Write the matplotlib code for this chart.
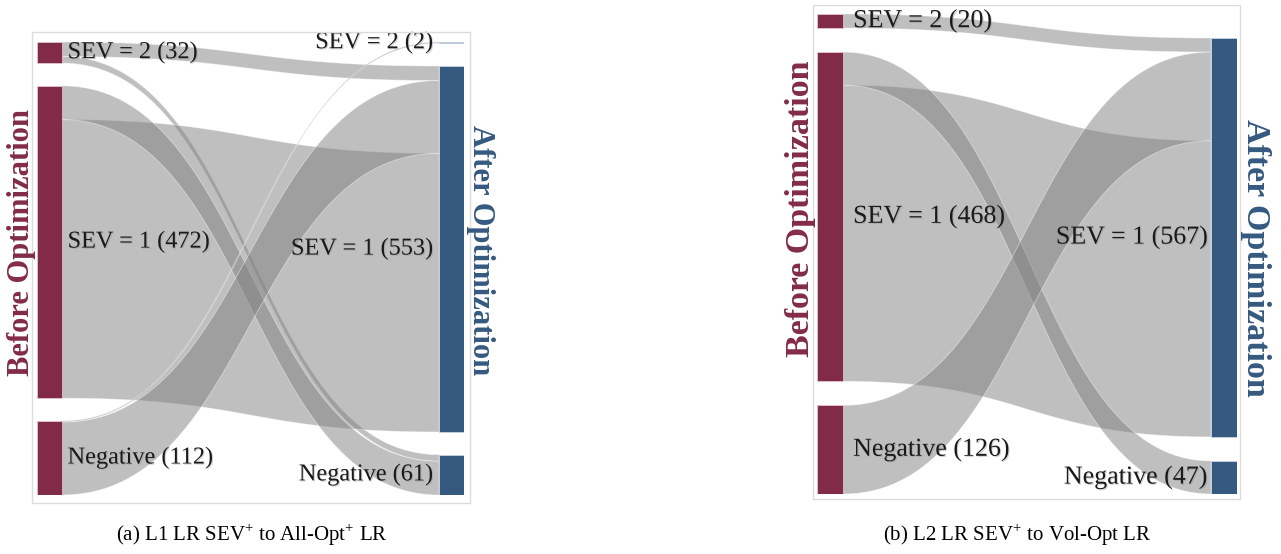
import matplotlib
matplotlib.use('Agg')
import matplotlib.pyplot as plt
import matplotlib.patheffects as pe
import numpy as np
from matplotlib.patches import Rectangle, Polygon

plt.rcParams['font.family'] = ['Liberation Serif', 'DejaVu Serif']
plt.rcParams['mathtext.fontset'] = 'custom'
plt.rcParams['mathtext.rm'] = 'Liberation Serif'

# ---- data ----
# panel (a): L1 LR SEV+ -> All-Opt+ LR
a_left_labels = ['SEV = 2', 'SEV = 1', 'Negative']
a_left_values = [32, 472, 112]
a_right_labels = ['SEV = 2', 'SEV = 1', 'Negative']
a_right_values = [2, 553, 61]
a_links = [(0, 1, 22), (0, 2, 10), (1, 1, 421), (1, 2, 51), (2, 0, 2), (2, 1, 110)]
a_src_order = [3, 2, 0, 1, 4, 5]       # stacking order at the left nodes
a_tgt_order = [4, 0, 5, 2, 1, 3]       # stacking order at the right nodes

# panel (b): L2 LR SEV+ -> Vol-Opt LR
b_left_labels = ['SEV = 2', 'SEV = 1', 'Negative']
b_left_values = [20, 468, 126]
b_right_labels = ['SEV = 1', 'Negative']
b_right_values = [567, 47]
b_links = [(0, 0, 20), (1, 0, 421), (1, 1, 47), (2, 0, 126)]
b_src_order = [0, 2, 1, 3]
b_tgt_order = [0, 3, 1, 2]

captions = ['(a) L1 LR SEV$^{+}$ to All-Opt$^{+}$ LR',
            '(b) L2 LR SEV$^{+}$ to Vol-Opt LR']

CRIMSON = '#822b48'
BLUE = '#35597f'
W, H = 1281, 554
GAP = 0.05
shadow = [pe.SimplePatchShadow(offset=(0.8, -0.8), shadow_rgbFace='#888888', alpha=0.35),
          pe.Normal()]


def px_axes(fig, x0, y0, x1, y1):
    return fig.add_axes([x0 / W, 1 - y1 / H, (x1 - x0) / W, (y1 - y0) / H])


def stack(values, total):
    scale = (1 - 2 * GAP) / total
    hs = [v * scale for v in values]
    top = 1 - (sum(hs) + GAP * (len(hs) - 1))   # bottom-aligned columns
    tops = []
    for h in hs:
        tops.append(top)
        top += h + GAP
    return tops, hs, scale


def draw_sankey(ax, lv, rv, links, src_order, tgt_order, ll, rl, nw, fs, lpad, rpad):
    total = sum(lv)
    ltops, lhs, scale = stack(lv, total)
    rtops, rhs, _ = stack(rv, total)
    ax.set_xlim(0, 1)
    ax.set_ylim(1, 0)
    ax.axis('off')

    # link positions at each end
    lcur = list(ltops)
    s_pos = {}
    for i in src_order:
        s, t, v = links[i]
        s_pos[i] = lcur[s]
        lcur[s] += v * scale
    rcur = list(rtops)
    t_pos = {}
    for i in tgt_order:
        s, t, v = links[i]
        t_pos[i] = rcur[t]
        rcur[t] += v * scale

    x0, x1 = nw, 1 - nw
    tt = np.linspace(0, 1, 100)
    xm = (x0 + x1) / 2
    xs = (1 - tt) ** 3 * x0 + 3 * (1 - tt) ** 2 * tt * xm + 3 * (1 - tt) * tt ** 2 * xm + tt ** 3 * x1
    ease = 3 * tt ** 2 - 2 * tt ** 3
    for i, (s, t, v) in enumerate(links):
        h = v * scale
        ytop = s_pos[i] + (t_pos[i] - s_pos[i]) * ease
        pts = np.concatenate([np.column_stack([xs, ytop]),
                              np.column_stack([xs[::-1], (ytop + h)[::-1]])])
        ax.add_patch(Polygon(pts, closed=True, facecolor=(0.5, 0.5, 0.5, 0.5),
                             edgecolor=(1, 1, 1, 0.45), lw=0.6))

    for top, h, lab, v in zip(ltops, lhs, ll, lv):
        ax.add_patch(Rectangle((0, top), nw, h, facecolor=CRIMSON,
                               edgecolor='#e8d0d8', lw=0.5))
        ax.text(nw + lpad, top + h / 2, f'{lab} ({v})', fontsize=fs,
                ha='left', va='center', color='#1a1a1a', path_effects=shadow)
    for top, h, lab, v in zip(rtops, rhs, rl, rv):
        ax.add_patch(Rectangle((1 - nw, top), nw, max(h, 0.002), facecolor=BLUE,
                               edgecolor='#d0d8e8', lw=0.5))
        ax.text(1 - nw - rpad, top + h / 2, f'{lab} ({v})', fontsize=fs,
                ha='right', va='center', color='#1a1a1a', path_effects=shadow)


fig = plt.figure(figsize=(W / 100, H / 100), dpi=100)

# frames around the two panels
for fx0, fy0, fx1, fy1 in [(32, 32, 470, 503), (813, 5, 1240, 499)]:
    fig.add_artist(Rectangle((fx0 / W, 1 - fy1 / H), (fx1 - fx0) / W, (fy1 - fy0) / H,
                             transform=fig.transFigure, fill=False,
                             edgecolor='#dcdcdc', lw=1))

ax1 = px_axes(fig, 37, 42, 464, 495)
draw_sankey(ax1, a_left_values, a_right_values, a_links, a_src_order, a_tgt_order,
            a_left_labels, a_right_labels, 25 / 427, 17.5, 0.013, 0.013)

ax2 = px_axes(fig, 817, 14, 1237, 494)
draw_sankey(ax2, b_left_values, b_right_values, b_links, b_src_order, b_tgt_order,
            b_left_labels, b_right_labels, 26 / 420, 18.7, 0.024, 0.008)

fig.text(22 / W, 1 - 243 / H, 'Before Optimization', rotation=90, color=CRIMSON,
         fontsize=22, fontweight='bold', ha='center', va='center')
fig.text(480 / W, 1 - 250 / H, 'After Optimization', rotation=-90, color=BLUE,
         fontsize=22, fontweight='bold', ha='center', va='center')
fig.text(800 / W, 1 - 209 / H, 'Before Optimization', rotation=90, color=CRIMSON,
         fontsize=24.5, fontweight='bold', ha='center', va='center')
fig.text(1255 / W, 1 - 258 / H, 'After Optimization', rotation=-90, color=BLUE,
         fontsize=24.5, fontweight='bold', ha='center', va='center')

fig.text(252 / W, 1 - 535 / H, captions[0], fontsize=15, ha='center', va='center')
fig.text(1017 / W, 1 - 535 / H, captions[1], fontsize=15, ha='center', va='center')

fig.savefig('out.png', dpi=100)
